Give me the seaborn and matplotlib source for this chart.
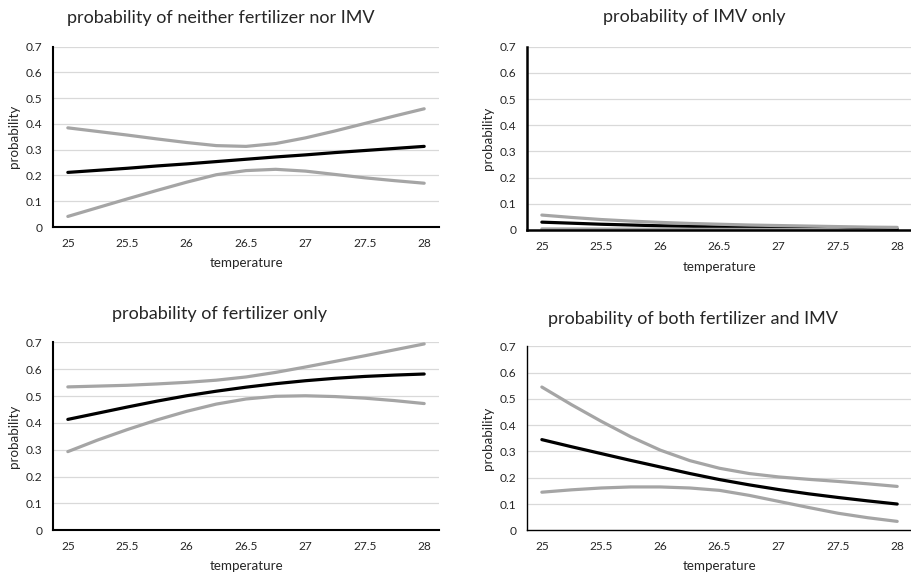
import numpy as np
import pandas as pd
import matplotlib
matplotlib.use("Agg")
import matplotlib.pyplot as plt
import seaborn as sns

# ---------------- data ----------------
temperature = [25.0, 25.25, 25.5, 25.75, 26.0, 26.25, 26.5, 26.75, 27.0, 27.25, 27.5, 27.75, 28.0]

neither_mean = [0.212, 0.220, 0.228, 0.237, 0.245, 0.254, 0.263, 0.272, 0.280, 0.289, 0.297, 0.305, 0.313]
neither_upper = [0.385, 0.371, 0.357, 0.342, 0.328, 0.316, 0.313, 0.324, 0.346, 0.373, 0.402, 0.431, 0.459]
neither_lower = [0.041, 0.075, 0.109, 0.142, 0.174, 0.203, 0.219, 0.224, 0.217, 0.204, 0.191, 0.180, 0.170]

imv_mean = [0.030, 0.026, 0.022, 0.019, 0.016, 0.014, 0.012, 0.010, 0.008, 0.007, 0.005, 0.004, 0.003]
imv_upper = [0.057, 0.048, 0.040, 0.034, 0.029, 0.025, 0.022, 0.019, 0.017, 0.015, 0.013, 0.011, 0.010]
imv_lower = [0.004, 0.0038, 0.0035, 0.0033, 0.003, 0.0028, 0.0025, 0.0022, 0.002, 0.0016, 0.001, -0.003, -0.006]

fert_mean = [0.413, 0.436, 0.459, 0.481, 0.501, 0.518, 0.533, 0.546, 0.557, 0.566, 0.573, 0.578, 0.582]
fert_upper = [0.534, 0.537, 0.540, 0.545, 0.551, 0.559, 0.571, 0.588, 0.608, 0.629, 0.650, 0.672, 0.694]
fert_lower = [0.293, 0.336, 0.375, 0.411, 0.443, 0.470, 0.489, 0.499, 0.501, 0.498, 0.492, 0.483, 0.472]

both_mean = [0.345, 0.318, 0.292, 0.266, 0.241, 0.216, 0.193, 0.173, 0.155, 0.139, 0.125, 0.112, 0.100]
both_upper = [0.545, 0.478, 0.415, 0.356, 0.305, 0.265, 0.236, 0.216, 0.203, 0.194, 0.186, 0.177, 0.167]
both_lower = [0.145, 0.154, 0.161, 0.165, 0.165, 0.161, 0.152, 0.133, 0.110, 0.087, 0.065, 0.048, 0.034]

titles = ["probability of neither fertilizer nor IMV",
          "probability of IMV only",
          "probability of fertilizer only",
          "probability of both fertilizer and IMV"]
x_ticks = [25, 25.5, 26, 26.5, 27, 27.5, 28]
x_tick_labels = ["25", "25.5", "26", "26.5", "27", "27.5", "28"]
y_ticks = [0, 0.1, 0.2, 0.3, 0.4, 0.5, 0.6, 0.7]
y_tick_labels = ["0", "0.1", "0.2", "0.3", "0.4", "0.5", "0.6", "0.7"]

panels = [
    (neither_mean, neither_upper, neither_lower),
    (imv_mean, imv_upper, imv_lower),
    (fert_mean, fert_upper, fert_lower),
    (both_mean, both_upper, both_lower),
]

# ---------------- style ----------------
sns.set_theme(style="white")
plt.rcParams["font.family"] = ["Lato", "DejaVu Sans"]

BLACK = "#000000"
GRAY = "#A5A5A5"
GRID = "#D9D9D9"
TXT = "#262626"

fig = plt.figure(figsize=(9.12, 5.76), dpi=100)

# axes rectangles (fig fraction)
rects = [
    [0.0581, 0.6059, 0.4233, 0.3130],
    [0.5779, 0.6007, 0.4221, 0.3182],
    [0.0581, 0.0793, 0.4233, 0.3264],
    [0.5779, 0.0793, 0.4221, 0.3195],
]
title_pos = [(0.2423, 0.969), (0.761, 0.970), (0.241, 0.4554), (0.760, 0.4462)]
spine_w = [1.5, 1.8, 1.5, 1.0]
xlabel_y = [-0.165, -0.168, -0.157, -0.161]

for i, (mean, upper, lower) in enumerate(panels):
    ax = fig.add_axes(rects[i])
    df = pd.DataFrame({"temperature": temperature, "mean": mean,
                       "upper": upper, "lower": lower})
    ax.set_ylim(0, 0.7)
    ax.set_xlim(24.875, 28.125)
    for yv in y_ticks[1:]:
        ax.axhline(yv, color=GRID, lw=0.9, zorder=0)
    sns.lineplot(data=df, x="temperature", y="mean", color=BLACK, lw=2.3, ax=ax, zorder=3)
    sns.lineplot(data=df, x="temperature", y="upper", color=GRAY, lw=2.3, ax=ax, zorder=3)
    sns.lineplot(data=df, x="temperature", y="lower", color=GRAY, lw=2.3, ax=ax, zorder=3)

    ax.set_yticks(y_ticks)
    ax.set_yticklabels(y_tick_labels)
    ax.set_xticks(x_ticks)
    ax.set_xticklabels(x_tick_labels)
    ax.tick_params(axis="both", length=0, labelsize=8.6, colors=TXT)
    ax.tick_params(axis="x", pad=8)
    ax.tick_params(axis="y", pad=7.5)

    for s in ["top", "right"]:
        ax.spines[s].set_visible(False)
    for s in ["left", "bottom"]:
        ax.spines[s].set_color(BLACK)
        ax.spines[s].set_linewidth(spine_w[i])
        ax.spines[s].set_zorder(5)

    ax.set_xlabel("temperature", fontsize=9.6, color=TXT, va="top")
    ax.xaxis.set_label_coords(0.5, xlabel_y[i])
    ax.set_ylabel("probability", fontsize=9.6, color=TXT)
    ax.yaxis.set_label_coords(-0.085, 0.5)

    fig.text(title_pos[i][0], title_pos[i][1], titles[i], ha="center", va="center",
             fontsize=13, color=TXT)

fig.savefig("out.png", dpi=100)
